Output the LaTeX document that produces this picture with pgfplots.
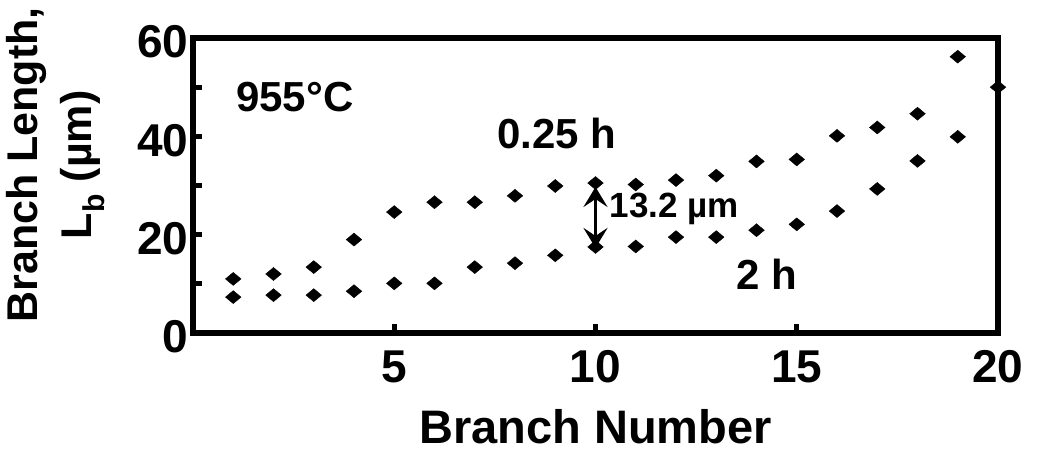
\documentclass[border=0pt]{standalone}
\usepackage{fontspec}
\setmainfont{Liberation Sans}
\usepackage{pgfplots}
\pgfplotsset{compat=1.18}
\usetikzlibrary{arrows.meta}
\pgfplotstableread{
x y
1 11.0
2 12.0
3 13.4
4 19.0
5 24.6
6 26.6
7 26.6
8 27.9
9 29.9
10 30.5
11 30.2
12 31.1
13 32.0
14 34.9
15 35.3
16 40.1
17 41.8
18 44.6
19 56.2
}\shorttime
\pgfplotstableread{
x y
1 7.3
2 7.7
3 7.7
4 8.5
5 10.1
6 10.1
7 13.4
8 14.2
9 15.8
10 17.5
11 17.6
12 19.5
13 19.5
14 20.9
15 22.1
16 24.8
17 29.3
18 35.0
19 39.9
20 50.0
}\longtime
\newcommand{\bigf}{\bfseries\fontsize{42bp}{51bp}\selectfont}
\newcommand{\tickf}{\bfseries\fontsize{46bp}{52bp}\selectfont}
\newcommand{\labf}{\bfseries\fontsize{47bp}{53bp}\selectfont}
\newcommand{\ylabf}{\bfseries\fontsize{43bp}{54bp}\selectfont}
\begin{document}
\begin{tikzpicture}
\useasboundingbox (-193bp,-122bp) rectangle (844bp,333bp);
\begin{axis}[
  scale only axis,
  width=805bp, height=295bp,
  xmin=0, xmax=20, ymin=0, ymax=60,
  axis line style={line width=6bp},
  tick style={line width=5bp, black},
  major tick length=9bp,
  tick align=inside,
  tick pos=left,
  xtick={5,10,15,20},
  ytick={0,10,20,30,40,50,60},
  yticklabels={0,,20,,40,,60},
  /pgf/number format/assume math mode=true,
  ticklabel style={font=\tickf},
  xticklabel style={yshift=-14bp},
  yticklabel style={yshift=-4bp, xshift=-1bp},
  xlabel={Branch Number},
  ylabel={Branch Length,\\L\textsubscript{b} (µm)},
  xlabel style={font=\labf, at={(axis description cs:0.5,-0.317)}, anchor=center},
  ylabel style={font=\ylabf, align=center, at={(axis description cs:-0.171,0.57)}, anchor=center, rotate=0},
  clip=false,
]
\addplot[only marks, mark=diamond*, mark size=6.5bp, mark options={xscale=1.6, fill=black, draw=black}] table[x=x,y=y] {\shorttime};
\addplot[only marks, mark=diamond*, mark size=6.5bp, mark options={xscale=1.6, fill=black, draw=black}] table[x=x,y=y] {\longtime};
\draw[line width=3bp, {Stealth[length=20bp,width=24bp,inset=8bp]}-{Stealth[length=20bp,width=24bp,inset=8bp]}] (axis cs:10,29.7) -- (axis cs:10,17.3);
\node[font=\bigf, inner sep=0pt] at (axis cs:2.53,48) {955°C};
\node[font=\bigf, inner sep=0pt] at (axis cs:9.04,40.6) {0.25 h};
\node[font=\bfseries\fontsize{35bp}{40bp}\selectfont, inner sep=0pt, anchor=west] at (axis cs:10.35,25.2) {13.2 µm};
\node[font=\bigf, inner sep=0pt] at (axis cs:14.26,12.0) {2 h};
\end{axis}
\end{tikzpicture}
\end{document}
